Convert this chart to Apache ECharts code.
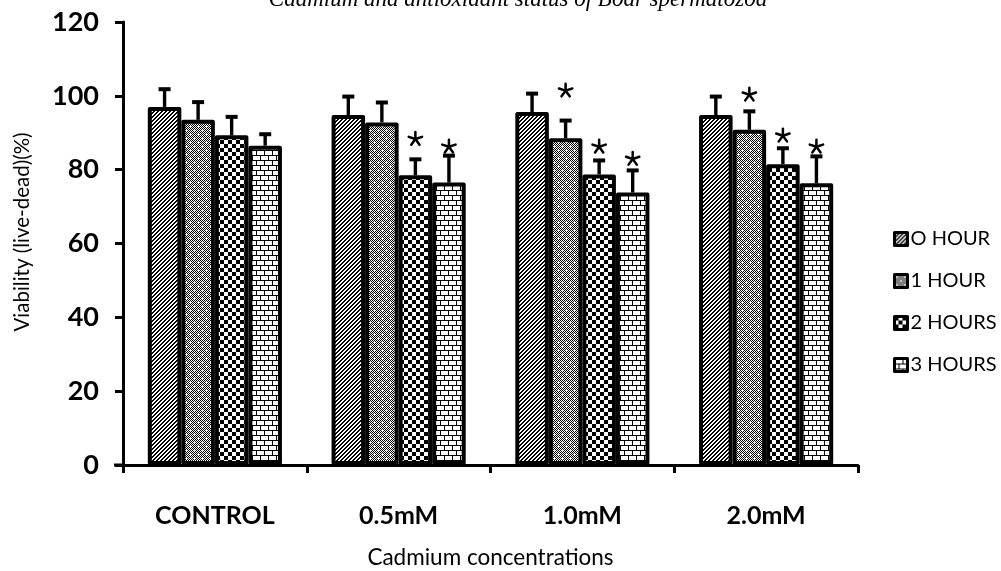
<!DOCTYPE html>
<html>
<head>
<meta charset="utf-8">
<script src="https://cdn.jsdelivr.net/npm/echarts@6/dist/echarts.min.js"></script>
<style>
html,body{margin:0;padding:0;background:#fff;}
#chart{width:1001px;height:571px;}
</style>
</head>
<body>
<div id="chart"></div>
<script>
// ---- data ----
const categories = ['CONTROL', '0.5mM', '1.0mM', '2.0mM'];
const seriesNames = ['O HOUR', '1 HOUR', '2 HOURS', '3 HOURS'];
const yTicks = [0, 20, 40, 60, 80, 100, 120];
const hour0 = [97.0, 94.8, 95.6, 94.8];
const hour1 = [93.5, 92.8, 88.5, 90.8];
const hour2 = [89.3, 78.5, 78.7, 81.5];
const hour3 = [86.5, 76.5, 73.8, 76.3];
const sd0 = [4.8, 5.0, 5.0, 5.0];
const sd1 = [4.8, 5.4, 4.8, 5.0];
const sd2 = [5.0, 4.3, 3.8, 4.3];
const sd3 = [3.1, 7.3, 6.0, 7.3];
// level (in % units) at which a significance asterisk is drawn; null = none
const star0 = [null, null, null, null];
const star1 = [null, null, 101.4, 100.3];
const star2 = [null, 88.3, 86.2, 89.2];
const star3 = [null, 86.2, 82.9, 86.2];

const means = [hour0, hour1, hour2, hour3];
const sds = [sd0, sd1, sd2, sd3];
const stars = [star0, star1, star2, star3];

// ---- patterns ----
function tile(w, h, fn) {
  const c = document.createElement('canvas');
  c.width = w; c.height = h;
  const ctx = c.getContext('2d');
  ctx.fillStyle = '#fff'; ctx.fillRect(0, 0, w, h);
  ctx.fillStyle = '#000';
  for (let y = 0; y < h; y++) for (let x = 0; x < w; x++) if (fn(x, y)) ctx.fillRect(x, y, 1, 1);
  return c;
}
const patHatch = tile(4, 4, (x, y) => ((x + y) % 4) < 2);
const patDots = tile(8, 8, (x, y) => {
  const dot = (px, py) => (x === px && Math.abs(y - py) <= 1) || (y === py && Math.abs(x - px) <= 1);
  if (dot(2, 2) || dot(6, 6)) return false;
  return (x + y) % 2 === 0;
});
const patChecker = tile(8, 8, (x, y) => ((Math.floor(x / 4) + Math.floor(y / 4)) % 2) === 0);
const patBrick = tile(8, 10, (x, y) => y === 0 || y === 5 || (x === 0 && y < 5) || (x === 4 && y > 5));
const patterns = [patHatch, patDots, patChecker, patBrick];

const GAP = 0.27;

const barSeries = seriesNames.map((name, s) => ({
  name: name,
  type: 'bar',
  data: means[s],
  barGap: '0%',
  barCategoryGap: (GAP * 100) + '%',
  itemStyle: {
    color: { image: patterns[s], repeat: 'repeat' },
    borderColor: '#000',
    borderWidth: 4,
    borderJoin: 'round'
  },
  z: 2
}));

function starShape(cx, cy) {
  const children = [];
  const r = 7;
  for (let k = 0; k < 5; k++) {
    const a = (-90 + k * 72) * Math.PI / 180;
    children.push({
      type: 'line',
      shape: { x1: cx, y1: cy, x2: cx + r * Math.cos(a), y2: cy + r * Math.sin(a) },
      style: { stroke: '#000', lineWidth: 2.5, lineCap: 'round' }
    });
  }
  return children;
}

const errSeries = seriesNames.map((name, s) => ({
  type: 'custom',
  data: categories.map((c, i) => [i, means[s][i], means[s][i] + sds[s][i], stars[s][i] == null ? -1 : stars[s][i]]),
  renderItem: function (params, api) {
    const i = api.value(0);
    const top = api.coord([i, api.value(2)]);
    const base = api.coord([i, api.value(1)]);
    const catW = api.size([1, 0])[0];
    const band = catW * (1 - GAP);
    const bw = band / 4;
    const cx = top[0] - band / 2 + (s + 0.5) * bw;
    let children = [
      { type: 'line', shape: { x1: cx, y1: base[1], x2: cx, y2: top[1] }, style: { stroke: '#000', lineWidth: 3.4 } },
      { type: 'line', shape: { x1: cx - 6, y1: top[1], x2: cx + 6, y2: top[1] }, style: { stroke: '#000', lineWidth: 4 } }
    ];
    const sv = api.value(3);
    if (sv > 0) {
      const sp = api.coord([i, sv]);
      children = children.concat(starShape(cx, sp[1]));
    }
    return { type: 'group', children: children };
  },
  z: 3
}));

const chart = echarts.init(document.getElementById('chart'), null, { renderer: 'canvas' });
chart.setOption({
  animation: false,
  backgroundColor: '#fff',
  grid: { left: 123, right: 143, top: 22, bottom: 106, containLabel: false, outerBoundsMode: 'none' },
  legend: {
    data: seriesNames,
    orient: 'vertical',
    left: 888,
    top: 224,
    icon: 'rect',
    itemWidth: 13,
    itemHeight: 13,
    itemGap: 22,
    selectedMode: false,
    itemStyle: { borderColor: '#000', borderWidth: 3 },
    textStyle: { fontFamily: 'Lato', fontSize: 20, color: '#000', padding: [0, 0, 0, -2] }
  },
  xAxis: {
    type: 'category',
    data: categories,
    name: 'Cadmium concentrations',
    nameLocation: 'middle',
    nameGap: 81,
    nameTextStyle: { fontFamily: 'Lato', fontSize: 22.5, color: '#000' },
    axisLine: { lineStyle: { color: '#000', width: 3 } },
    axisTick: { show: true, length: 8, lineStyle: { color: '#000', width: 3 } },
    axisLabel: { margin: 38, fontFamily: 'Lato', fontWeight: 'bold', fontSize: 25, color: '#000' }
  },
  yAxis: {
    type: 'value',
    min: yTicks[0],
    max: yTicks[yTicks.length - 1],
    interval: yTicks[1] - yTicks[0],
    axisLine: { show: true, lineStyle: { color: '#000', width: 3 } },
    axisTick: { show: true, length: 8, lineStyle: { color: '#000', width: 3 } },
    splitLine: { show: false },
    axisLabel: { margin: 24, fontFamily: 'Lato', fontWeight: 'bold', fontSize: 27, color: '#000' }
  },
  graphic: [
    {
      type: 'text', x: 518, y: 0,
      style: { text: 'Cadmium and antioxidant status of Boar spermatozoa', fontFamily: 'Liberation Serif', fontStyle: 'italic', fontSize: 23, fill: '#000', align: 'center', verticalAlign: 'middle' }
    },
    {
      type: 'text', x: 22, y: 232, rotation: Math.PI / 2,
      style: { text: 'Viability (live-dead)(%)', fontFamily: 'Lato', fontSize: 20.5, fill: '#000', align: 'center', verticalAlign: 'middle' }
    },
    {
      type: 'line', shape: { x1: 114, y1: 465, x2: 124, y2: 465 }, style: { stroke: '#000', lineWidth: 3 }
    }
  ],
  series: barSeries.concat(errSeries)
});
</script>
</body>
</html>
